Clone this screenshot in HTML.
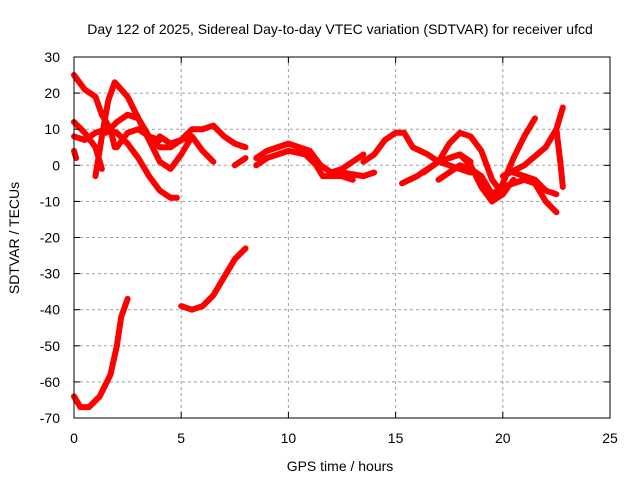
<!DOCTYPE html>
<html><head><meta charset="utf-8"><style>
body{margin:0;background:#fff}
svg{display:block;font-family:"Liberation Sans",sans-serif}
</style></head><body>
<svg id="chart" width="640" height="480">
<text x="340" y="34" text-anchor="middle" font-size="14">Day 122 of 2025, Sidereal Day-to-day VTEC variation (SDTVAR) for receiver ufcd</text>
<text x="340" y="471" text-anchor="middle" font-size="14">GPS time / hours</text>
<text transform="translate(19,238) rotate(-90)" text-anchor="middle" font-size="14">SDTVAR / TECUs</text>
<g id="grid"></g><g id="series"></g><g id="axes"></g>
</svg>
<script>
const xTicks=[0,5,10,15,20,25];
const yTicks=[30,20,10,0,-10,-20,-30,-40,-50,-60,-70];
const tracks=[
[[0,-64],[0.3,-67],[0.7,-67],[1.2,-64],[1.7,-58],[2.0,-50],[2.2,-42],[2.5,-37]],
[[5.0,-39],[5.5,-40],[6.0,-39],[6.5,-36],[7,-31],[7.5,-26],[8,-23]],
[[0,25],[0.5,21],[1,19],[1.3,14],[1.7,10],[1.9,5]],
[[0,4],[0.1,2]],
[[1.0,-3],[1.3,8],[1.6,18],[1.9,23],[2.5,19],[3,13],[3.5,7],[4,1],[4.5,-1],[5,3],[5.5,8],[6.0,4],[6.5,1]],
[[0,12],[0.5,9],[1,5],[1.3,-1]],
[[0,8],[0.5,7],[1.0,9],[1.5,10],[2,9],[2.5,6],[3,2],[3.5,-3],[4,-7],[4.5,-9],[4.8,-9]],
[[1.5,9],[2,12],[2.5,14],[3,13],[3.5,8],[4,5],[4.5,5],[5,7],[5.5,8]],
[[2,5],[2.5,9],[3,10],[3.5,8],[4.0,7]],
[[4,8],[4.5,6],[5,7],[5.5,10],[6,10]],
[[6,10],[6.5,11],[7,8],[7.5,6],[8,5]],
[[7.5,0],[8,2]],
[[8.5,2],[9,4],[9.5,5],[10,6],[10.5,5],[11,4],[11.5,0],[12,-2],[12.5,-1],[13,1],[13.5,3]],
[[8.5,0],[9,2],[10,4],[10.8,3],[11.3,0],[11.6,-3],[12.5,-3],[13,-4]],
[[12.5,-2],[13.5,-3],[14,-2]],
[[13.5,1],[14,3],[14.5,7],[15,9],[15.4,9],[15.8,5],[16.5,3],[17,1],[17.5,0],[18,-1],[18.5,-2]],
[[15.3,-5],[16,-3],[16.5,-1],[17,1],[17.5,2],[18,3],[18.5,1]],
[[16.3,-2],[17,1],[17.5,6],[18,9],[18.5,8],[19,4],[19.5,-4],[20,-8],[20.5,-4]],
[[17,-4],[17.5,-2],[18,0],[18.5,-1],[19,-3],[19.5,-8],[20,-6],[20.5,-5],[21,-4]],
[[17.5,2],[18,3],[18.5,0],[19,-6],[19.5,-10],[20,-8]],
[[19.5,-10],[20,-5],[20.5,2],[21,8],[21.5,13]],
[[20,-3],[21,0],[22,5],[22.5,10],[22.8,16]],
[[22.5,10],[22.7,0],[22.8,-6]],
[[21,-4],[21.5,-5],[22,-10],[22.5,-13]],
[[20.5,-2],[21,-3],[21.5,-4],[22,-7],[22.5,-8]]
];
const X0=74,X1=610,Y0=57,Y1=418;
const sx=v=>X0+(v-0)/25*(X1-X0);
const sy=v=>Y1-(v+70)/100*(Y1-Y0);
const NS='http://www.w3.org/2000/svg';
const mk=(t,p,a)=>{const e=document.createElementNS(NS,t);for(const k in a)e.setAttribute(k,a[k]);p.appendChild(e);return e;};
const grid=document.getElementById('grid'),axes=document.getElementById('axes'),ser=document.getElementById('series');
xTicks.forEach(t=>{
 if(t>0&&t<25){const g=mk('line',grid,{x1:sx(t),x2:sx(t),y1:Y0,y2:Y1,stroke:'#a0a0a0','stroke-dasharray':'3,3'});
 
 }
 const l=mk('text',axes,{x:sx(t),y:Y1+25,'text-anchor':'middle','font-size':'14'});l.textContent=t;
 
 
 mk('line',axes,{x1:sx(t),x2:sx(t),y1:Y1,y2:Y1-6,stroke:'#000'});
 mk('line',axes,{x1:sx(t),x2:sx(t),y1:Y0,y2:Y0+6,stroke:'#000'});
});
yTicks.forEach(t=>{
 if(t<30&&t>-70){const g=mk('line',grid,{x1:X0,x2:X1,y1:sy(t),y2:sy(t),stroke:'#a0a0a0','stroke-dasharray':'3,3'});
 
 }
 const l=mk('text',axes,{x:X0-14,y:sy(t)+5,'text-anchor':'end','font-size':'14'});l.textContent=t;
 
 
 mk('line',axes,{x1:X0,x2:X0+6,y1:sy(t),y2:sy(t),stroke:'#000'});
 mk('line',axes,{x1:X1,x2:X1-6,y1:sy(t),y2:sy(t),stroke:'#000'});
});
const fr=mk('rect',axes,{x:X0,y:Y0,width:X1-X0,height:Y1-Y0,fill:'none',stroke:'#000'});


tracks.forEach(tr=>{
 const p=mk('polyline',ser,{points:tr.map(d=>sx(d[0])+','+sy(d[1])).join(' '),fill:'none',stroke:'#ff0000','stroke-width':'6','stroke-linejoin':'round','stroke-linecap':'round'});
 
 
});
</script>
</body></html>
